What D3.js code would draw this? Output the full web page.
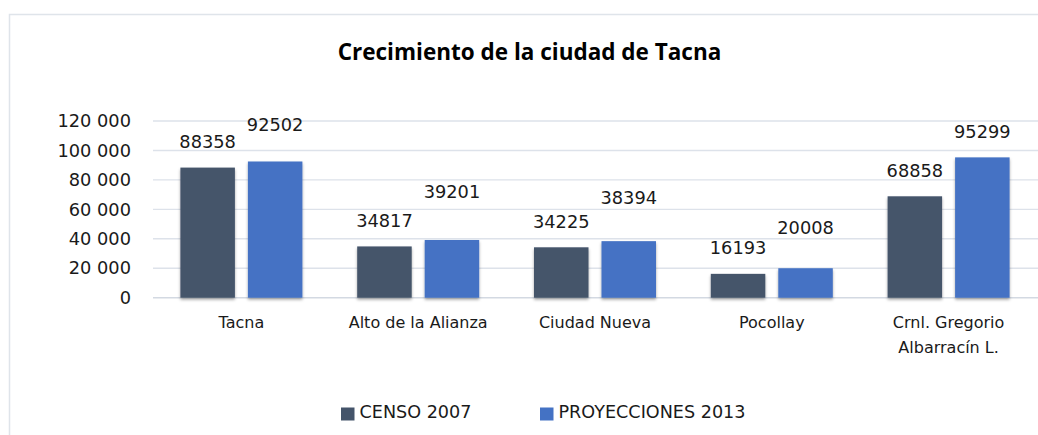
<!DOCTYPE html>
<html>
<head>
<meta charset="utf-8">
<script src="https://cdn.jsdelivr.net/npm/d3@7"></script>
<style>
  html, body { margin: 0; padding: 0; background: #fff; }
  svg { display: block; }
</style>
</head>
<body>
<svg id="chart" width="1038" height="435"></svg>
<script>
// ---- data ----
const title = "Crecimiento de la ciudad de Tacna";
const categories = ["Tacna", "Alto de la Alianza", "Ciudad Nueva", "Pocollay", "Crnl. Gregorio Albarracín L."];
const categoryLines = [["Tacna"], ["Alto de la Alianza"], ["Ciudad Nueva"], ["Pocollay"], ["Crnl. Gregorio", "Albarracín L."]];
const seriesNames = ["CENSO 2007", "PROYECCIONES 2013"];
const censo2007 = [88358, 34817, 34225, 16193, 68858];
const proyecciones2013 = [92502, 39201, 38394, 20008, 95299];
const yTicks = [0, 20000, 40000, 60000, 80000, 100000, 120000];

// ---- styles / layout ----
const colors = ["#44546a", "#4472c4"];
const labelLift = [[26, 26, 26, 26, 26], [37, 48, 44, 41, 26]]; // label centre above bar top (px)
const numFont = "'DejaVu Sans', Verdana, sans-serif";

const svg = d3.select("#chart");
const W = 1038, H = 435;

const defs = svg.append("defs");
const f = defs.append("filter").attr("id", "shadow").attr("x", "-10%").attr("y", "-10%").attr("width", "120%").attr("height", "130%");
f.append("feDropShadow").attr("dx", 0).attr("dy", 2).attr("stdDeviation", 1.6)
  .attr("flood-color", "#000").attr("flood-opacity", 0.35);

// outer border
svg.append("rect").attr("x", 9.5).attr("y", 14.5).attr("width", W + 20).attr("height", H + 20)
  .attr("fill", "#fff").attr("stroke", "#dfe4ea").attr("stroke-width", 1.5);

const x0 = d3.scaleBand().domain(categories).range([153, 1037]).paddingInner(0).paddingOuter(0);
const x1 = d3.scaleBand().domain(seriesNames).range([0, x0.bandwidth()]).paddingInner(0.1926).paddingOuter(0.406);
const y = d3.scaleLinear().domain([0, 120000]).range([297.7, 121]);

const locale = d3.formatLocale({ decimal: ",", thousands: " ", grouping: [3], currency: ["", ""] });
const fmt = locale.format(",d");

// gridlines
svg.append("g").selectAll("line").data(yTicks).join("line")
  .attr("x1", 153).attr("x2", W)
  .attr("y1", d => y(d)).attr("y2", d => y(d))
  .attr("stroke", d => d === 0 ? "#d3d9e2" : "#dde2ea").attr("stroke-width", 1.4);

// y axis labels
const yAxis = d3.axisLeft(y).tickValues(yTicks).tickFormat(fmt).tickSize(0).tickPadding(0);
const gy = svg.append("g").attr("transform", "translate(131,0)").call(yAxis);
gy.select(".domain").remove();
gy.selectAll("text").attr("font-family", numFont).attr("font-size", "17.8px").attr("fill", "#1a1a1a");

// bars
const seriesValues = [censo2007, proyecciones2013];
const rows = [];
categories.forEach((c, i) => seriesNames.forEach((s, j) => rows.push({ c, s, i, j, v: seriesValues[j][i] })));

const gBars = svg.append("g");
gBars.selectAll("rect").data(rows).join("rect")
  .attr("x", d => x0(d.c) + x1(d.s))
  .attr("width", x1.bandwidth())
  .attr("y", d => y(d.v))
  .attr("height", d => y(0) - y(d.v))
  .attr("fill", d => colors[d.j])
  .attr("filter", "url(#shadow)");

// value labels
svg.append("g").selectAll("text").data(rows).join("text")
  .attr("x", d => x0(d.c) + x1(d.s) + x1.bandwidth() / 2)
  .attr("y", d => y(d.v) - labelLift[d.j][d.i])
  .attr("dy", "0.36em")
  .attr("text-anchor", "middle")
  .attr("font-family", numFont).attr("font-size", "17.8px").attr("fill", "#1a1a1a")
  .text(d => d.v);

// category labels
const gx = svg.append("g");
categories.forEach((c, i) => {
  const t = gx.append("text")
    .attr("x", x0(c) + x0.bandwidth() / 2)
    .attr("y", 328.3)
    .attr("text-anchor", "middle")
    .attr("font-family", numFont).attr("font-size", "16px").attr("fill", "#1a1a1a");
  categoryLines[i].forEach((ln, k) => {
    t.append("tspan").attr("x", x0(c) + x0.bandwidth() / 2).attr("dy", k === 0 ? 0 : 25).text(ln);
  });
});

// title
svg.append("text").attr("x", 529.5).attr("y", 60)
  .attr("text-anchor", "middle")
  .attr("font-family", "'Open Sans', sans-serif").attr("font-weight", "bold").attr("font-size", "22.5px")
  .attr("fill", "#000").text(title);

// legend
const legendX = [341, 540];
const lg = svg.append("g");
seriesNames.forEach((s, j) => {
  lg.append("rect").attr("x", legendX[j]).attr("y", 407.5).attr("width", 13.5).attr("height", 13)
    .attr("fill", colors[j]);
  lg.append("text").attr("x", legendX[j] + 18.5).attr("y", 418)
    .attr("font-family", numFont).attr("font-size", "17.6px").attr("fill", "#1a1a1a").text(s);
});
</script>
</body>
</html>
